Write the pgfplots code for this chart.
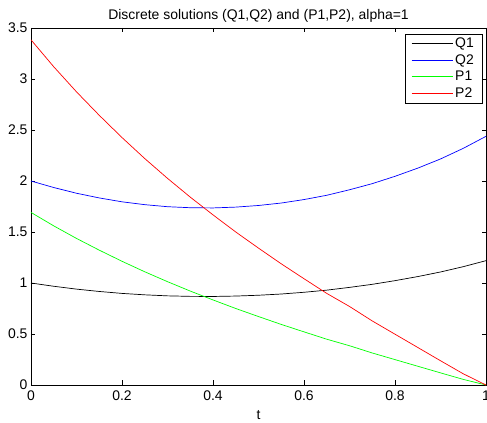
\documentclass[border=0pt]{standalone}
\usepackage{fontspec}
\setmainfont{Liberation Sans}
\usepackage{pgfplots}
\pgfplotsset{compat=1.18}
\begin{document}
\begin{tikzpicture}
\begin{axis}[
  name=ax,
  scale only axis,
  width=455bp, height=357bp,
  xmin=0, xmax=1, ymin=0, ymax=3.5,
  xtick={0,0.2,0.4,0.6,0.8,1},
  ytick={0,0.5,1,1.5,2,2.5,3,3.5},
  tick align=inside,
  major tick length=4.5bp,
  axis line style={line width=0.9bp},
  every tick/.style={black, line width=0.6bp},
  /pgf/number format/assume math mode=true,
  tick label style={font=\fontsize{14}{16}\selectfont},
  xticklabel style={yshift=-2bp},
  title={Discrete solutions (Q1,Q2) and (P1,P2), alpha=1},
  title style={font=\fontsize{14}{16}\selectfont, yshift=-4bp},
  xlabel={t},
  xlabel style={font=\fontsize{14}{16}\selectfont, yshift=-3bp},
  legend style={at={(1,1)}, anchor=north east, xshift=-4bp, yshift=-6bp,
    draw=black, font=\fontsize{14}{16}\selectfont,
    inner xsep=6bp, inner ysep=2bp, row sep=1.3bp},
  legend cell align=left,
  legend image code/.code={\draw[line width=1.1bp, mark repeat=2,mark phase=2] plot coordinates {(0bp,0bp) (20bp,0bp) (41bp,0bp)};},
  every axis plot/.append style={line width=0.7bp},
]
\addplot[black] coordinates {
(0,1.000) (0.05,0.968) (0.1,0.940) (0.15,0.917) (0.2,0.898) (0.25,0.884)
(0.3,0.874) (0.35,0.869) (0.4,0.868) (0.45,0.872) (0.5,0.880) (0.55,0.892)
(0.6,0.909) (0.65,0.930) (0.7,0.957) (0.75,0.987) (0.8,1.023) (0.85,1.063)
(0.9,1.108) (0.95,1.160) (1,1.219)};
\addlegendentry{Q1}
\addplot[blue] coordinates {
(0,2.000) (0.05,1.936) (0.1,1.880) (0.15,1.834) (0.2,1.796) (0.25,1.768)
(0.3,1.748) (0.35,1.738) (0.4,1.736) (0.45,1.744) (0.5,1.760) (0.55,1.784)
(0.6,1.818) (0.65,1.860) (0.7,1.914) (0.75,1.974) (0.8,2.046) (0.85,2.126)
(0.9,2.216) (0.95,2.320) (1,2.438)};
\addlegendentry{Q2}
\addplot[green] coordinates {
(0,1.692) (0.05,1.560) (0.1,1.437) (0.15,1.322) (0.2,1.213) (0.25,1.110)
(0.3,1.013) (0.35,0.921) (0.4,0.834) (0.45,0.750) (0.5,0.671) (0.55,0.594)
(0.6,0.521) (0.65,0.449) (0.7,0.385) (0.75,0.314) (0.8,0.249) (0.85,0.184)
(0.9,0.119) (0.95,0.055) (1,0)};
\addlegendentry{P1}
\addplot[red] coordinates {
(0,3.384) (0.05,3.120) (0.1,2.874) (0.15,2.644) (0.2,2.426) (0.25,2.220)
(0.3,2.026) (0.35,1.842) (0.4,1.668) (0.45,1.500) (0.5,1.342) (0.55,1.188)
(0.6,1.042) (0.65,0.898) (0.7,0.770) (0.75,0.628) (0.8,0.498) (0.85,0.368)
(0.9,0.238) (0.95,0.110) (1,0)};
\addlegendentry{P2}
\end{axis}
\pgfresetboundingbox
\path ([xshift=-31bp,yshift=-38bp]ax.south west) rectangle ([xshift=1bp,yshift=28bp]ax.north east);
\end{tikzpicture}
\end{document}
